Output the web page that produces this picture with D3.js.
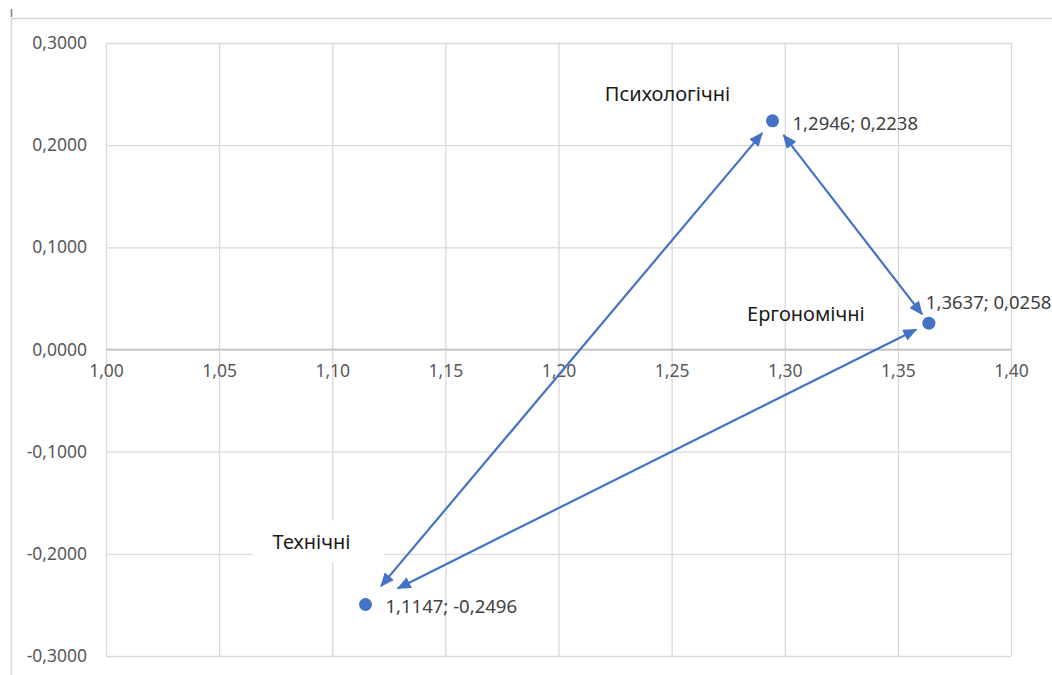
<!DOCTYPE html>
<html>
<head>
<meta charset="utf-8">
<script src="https://cdn.jsdelivr.net/npm/d3@7"></script>
<style>
  html, body { margin: 0; padding: 0; background: #fff; }
  svg { display: block; font-family: "Noto Sans", "Open Sans", sans-serif; }
</style>
</head>
<body>
<svg id="chart" width="1052" height="675"></svg>
<script>
// Factor groups: name and (x, y) coordinates
const categories = ["Психологічні", "Ергономічні", "Технічні"];
const xValues = [1.2946, 1.3637, 1.1147];
const yValues = [0.2238, 0.0258, -0.2496];

// Axis ticks
const xTicks = [1.00, 1.05, 1.10, 1.15, 1.20, 1.25, 1.30, 1.35, 1.40];
const yTicks = [0.3, 0.2, 0.1, 0.0, -0.1, -0.2, -0.3];

// Double-headed connectors between groups (indices into categories)
const links = [[2, 0], [0, 1], [1, 2]];

const blue = "#4472C4";
const grid = "#d9d9d9";
const W = 1052, H = 675;
const plot = { left: 106, right: 1011, top: 43, bottom: 656 };

const svg = d3.select("#chart");

const x = d3.scaleLinear().domain([1.0, 1.4]).range([plot.left, plot.right]);
const y = d3.scaleLinear().domain([-0.3, 0.3]).range([plot.bottom, plot.top]);

const fmtX = v => d3.format(".2f")(v).replace(".", ",");
const fmtY = v => d3.format(".4f")(v).replace(".", ",").replace("−", "-");
const fmtVal = v => d3.format(".4f")(v).replace(".", ",").replace("−", "-");

// Chart frame
svg.append("line").attr("x1", 11).attr("x2", W).attr("y1", 18.5).attr("y2", 18.5)
  .attr("stroke", grid).attr("stroke-width", 1.5);
svg.append("line").attr("x1", 11.5).attr("x2", 11.5).attr("y1", 18).attr("y2", H)
  .attr("stroke", grid).attr("stroke-width", 1.5);
svg.append("line").attr("x1", 11.5).attr("x2", 11.5).attr("y1", 9).attr("y2", 17)
  .attr("stroke", "#808080").attr("stroke-width", 1.5);

// Horizontal gridlines with y tick labels
const yAxis = d3.axisLeft(y).tickValues(yTicks).tickFormat(fmtY)
  .tickSize(-(plot.right - plot.left)).tickPadding(19);
const gy = svg.append("g").attr("transform", `translate(${plot.left},0)`).call(yAxis);
gy.select(".domain").remove();
gy.selectAll(".tick line").attr("stroke", grid).attr("stroke-width", 1.3);
gy.selectAll(".tick text").attr("fill", "#595959").attr("font-size", 17.5)
  .attr("font-family", "'Noto Sans', sans-serif");

// Vertical gridlines spanning the plot, labels hang below the zero line
const xGrid = d3.axisBottom(x).tickValues(xTicks).tickFormat("")
  .tickSize(-(plot.bottom - plot.top));
const gx = svg.append("g").attr("transform", `translate(0,${plot.bottom})`).call(xGrid);
gx.select(".domain").remove();
gx.selectAll(".tick line").attr("stroke", grid).attr("stroke-width", 1.3);

const xAxis = d3.axisBottom(x).tickValues(xTicks).tickFormat(fmtX).tickSize(0).tickPadding(15);
const gx0 = svg.append("g").attr("transform", `translate(0,${y(0)})`).call(xAxis);
gx0.select(".domain").attr("stroke", "#bfbfbf").attr("stroke-width", 1.5)
  .attr("d", `M${plot.left},0H${plot.right}`);
gx0.selectAll(".tick text").attr("fill", "#595959").attr("font-size", 17.5)
  .attr("font-family", "'Noto Sans', sans-serif");

// Arrowhead markers
const defs = svg.append("defs");
defs.append("marker").attr("id", "head")
  .attr("viewBox", "0 0 14 12").attr("refX", 13).attr("refY", 6)
  .attr("markerUnits", "userSpaceOnUse").attr("markerWidth", 14).attr("markerHeight", 12)
  .attr("orient", "auto-start-reverse")
  .append("path").attr("d", "M0,0L14,6L0,12Z").attr("fill", blue);

// Gaps (px) left between a connector end and the point it points at
const gaps = [[24, 16], [18, 11], [14, 36]];

const pts = categories.map((c, i) => ({ name: c, px: x(xValues[i]), py: y(yValues[i]), xv: xValues[i], yv: yValues[i] }));

svg.append("g").selectAll("line").data(links).join("line")
  .each(function (d, i) {
    const a = pts[d[0]], b = pts[d[1]];
    const dx = b.px - a.px, dy = b.py - a.py, len = Math.hypot(dx, dy);
    const ux = dx / len, uy = dy / len;
    d3.select(this)
      .attr("x1", a.px + ux * gaps[i][0]).attr("y1", a.py + uy * gaps[i][0])
      .attr("x2", b.px - ux * gaps[i][1]).attr("y2", b.py - uy * gaps[i][1]);
  })
  .attr("stroke", blue).attr("stroke-width", 2.2)
  .attr("marker-start", "url(#head)").attr("marker-end", "url(#head)");

// Category name placement relative to each point
const nameOffset = [[-105, -27], [-123, -10], [-54, -63]];
// Value label placement relative to each point
const valueOffset = [[20, 2], [-3, -22], [20, 1]];

// White backing behind the lower name
const ti = 2;
svg.append("rect")
  .attr("x", pts[ti].px + nameOffset[ti][0] - 59).attr("y", pts[ti].py + nameOffset[ti][1] - 21)
  .attr("width", 132).attr("height", 42).attr("fill", "#fff");

// Points
svg.append("g").selectAll("circle").data(pts).join("circle")
  .attr("cx", d => d.px).attr("cy", d => d.py).attr("r", 6.5).attr("fill", blue);

// Category names
svg.append("g").selectAll("text").data(pts).join("text")
  .attr("x", (d, i) => d.px + nameOffset[i][0]).attr("y", (d, i) => d.py + nameOffset[i][1])
  .attr("text-anchor", "middle").attr("dominant-baseline", "central")
  .attr("font-size", 20).attr("fill", "#1a1a1a")
  .text(d => d.name);

// Value labels
svg.append("g").selectAll("text").data(pts).join("text")
  .attr("x", (d, i) => d.px + valueOffset[i][0]).attr("y", (d, i) => d.py + valueOffset[i][1])
  .attr("dominant-baseline", "central")
  .attr("font-size", 18.5).attr("fill", "#404040")
  .text(d => `${fmtVal(d.xv)}; ${fmtVal(d.yv)}`);
</script>
</body>
</html>
